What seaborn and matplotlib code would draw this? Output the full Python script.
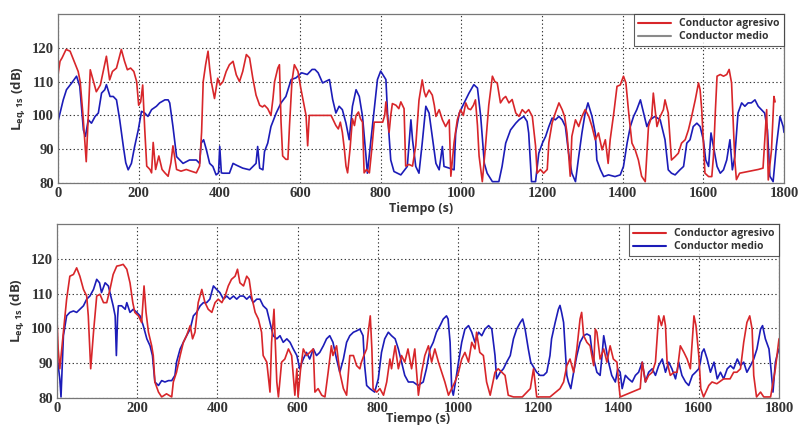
import numpy as np
import pandas as pd
import matplotlib
matplotlib.use("Agg")
import matplotlib.pyplot as plt
from matplotlib.lines import Line2D
import seaborn as sns

sns.set_style("white")
plt.rcParams['font.family'] = ['Open Sans', 'DejaVu Sans']

# ---------------- data ----------------
top_red_t = [0, 5, 10, 20, 30, 40, 50, 55, 62, 70, 75, 80, 88, 95, 105, 112, 120, 128, 135, 145, 157, 165, 172, 180, 188, 195, 200, 205, 210, 215, 220, 228, 232, 236, 242, 250, 258, 265, 273, 280, 285, 290, 294, 305, 318, 330, 343, 351, 356, 360, 366, 372, 376, 380, 388, 396, 402, 409, 417, 425, 434, 442, 450, 458, 467, 475, 483, 491, 500, 507, 512, 520, 528, 533, 537, 545, 549, 553, 557, 565, 570, 574, 580, 586, 595, 602, 610, 615, 619, 623, 650, 677, 685, 689, 695, 700, 705, 710, 714, 718, 724, 730, 735, 739, 745, 750, 755, 759, 765, 772, 778, 784, 795, 805, 810, 813, 817, 821, 825, 829, 838, 845, 850, 858, 862, 870, 879, 887, 895, 903, 908, 912, 920, 928, 933, 937, 945, 953, 961, 970, 974, 982, 990, 998, 1005, 1011, 1017, 1023, 1030, 1035, 1040, 1044, 1052, 1060, 1068, 1077, 1083, 1089, 1097, 1104, 1110, 1118, 1126, 1135, 1143, 1151, 1159, 1167, 1176, 1184, 1188, 1196, 1204, 1213, 1217, 1225, 1233, 1242, 1250, 1256, 1262, 1270, 1274, 1283, 1291, 1299, 1307, 1316, 1324, 1332, 1340, 1349, 1357, 1364, 1369, 1378, 1386, 1394, 1402, 1408, 1415, 1423, 1431, 1439, 1447, 1456, 1464, 1472, 1476, 1485, 1493, 1501, 1505, 1513, 1521, 1530, 1538, 1546, 1555, 1563, 1571, 1580, 1588, 1592, 1596, 1604, 1613, 1621, 1625, 1630, 1634, 1642, 1650, 1658, 1664, 1670, 1678, 1682, 1690, 1711, 1736, 1748, 1757, 1761, 1769, 1775, 1778]
top_red_v = [112, 116, 117, 119.5, 119, 116, 113, 110, 100, 86.3, 100, 113.5, 110, 107, 109, 113, 117.5, 110.5, 113, 114, 119.5, 116, 113.5, 114, 113, 110, 103, 104, 109, 96, 85, 84, 83, 92, 84, 88, 84, 83, 82, 86, 91, 87, 84, 83.5, 84, 83.5, 83, 85, 95, 110, 115, 119, 114, 110, 105, 111, 109, 110, 113, 115, 116, 112, 110, 113, 118, 117, 111, 106, 103, 102.5, 103, 102, 100, 105, 110, 114, 115, 98, 88, 87, 87, 97, 110, 115, 113, 108, 103, 100, 91, 100, 100, 100, 98, 97, 96, 98, 95, 90, 85, 83, 90, 99, 97, 100, 101, 99, 98, 83, 84, 83, 90, 98, 98, 98, 100, 104, 99, 95, 100, 103.5, 103, 102, 104, 102, 85, 85.5, 85, 91, 104.5, 110.5, 107, 105.5, 107.5, 106, 103, 99.7, 101.7, 98.7, 96.7, 98.7, 82, 92, 98.7, 101.7, 100, 103.7, 102, 101.7, 103, 104.6, 97, 88, 80.4, 91, 103, 111.6, 110, 109.6, 103.7, 105, 105.6, 103.7, 104.7, 100.7, 99.7, 101.7, 100.7, 101.7, 99.7, 91, 82.9, 84, 82.9, 84, 92, 97.7, 100.7, 103.7, 101.7, 99.7, 94.8, 82, 93.8, 98.7, 96.7, 99.7, 101.7, 99.7, 96.7, 92.8, 94.8, 89.8, 92.8, 85.8, 92.8, 100.7, 108.6, 109, 111.6, 109.6, 100.7, 91.8, 89.8, 86.8, 82, 80.4, 96.7, 99.7, 106.6, 96.7, 99.7, 101.7, 104.6, 100.7, 86.8, 87.8, 88.8, 91.8, 92.8, 95.7, 99.7, 104.6, 109.6, 107.6, 101.7, 82.9, 81.9, 81.9, 87.8, 101.7, 111.6, 112.1, 111.6, 112.1, 113.6, 109.6, 86.8, 81, 82.9, 83.4, 84, 84.4, 101.7, 80.9, 89.8, 105.6, 104]

top_blue_t = [0, 5, 13, 21, 34, 46, 54, 58, 63, 68, 75, 83, 92, 100, 108, 116, 120, 129, 137, 145, 153, 162, 168, 174, 182, 190, 199, 207, 215, 223, 232, 244, 252, 265, 273, 277, 285, 294, 302, 310, 326, 343, 351, 355, 361, 368, 376, 384, 392, 398, 401, 405, 409, 425, 434, 442, 458, 475, 491, 495, 500, 508, 512, 520, 528, 541, 553, 565, 578, 590, 604, 618, 630, 637, 645, 656, 673, 681, 689, 697, 705, 714, 722, 730, 739, 747, 755, 763, 767, 776, 784, 792, 800, 813, 817, 825, 833, 850, 866, 875, 879, 887, 895, 903, 912, 920, 928, 937, 945, 953, 957, 970, 982, 986, 995, 1007, 1019, 1031, 1040, 1048, 1057, 1064, 1077, 1093, 1101, 1110, 1122, 1135, 1143, 1155, 1163, 1167, 1174, 1184, 1192, 1201, 1209, 1217, 1225, 1233, 1242, 1250, 1258, 1266, 1274, 1283, 1291, 1299, 1307, 1314, 1324, 1332, 1336, 1345, 1353, 1365, 1381, 1394, 1402, 1411, 1419, 1427, 1435, 1444, 1452, 1460, 1468, 1480, 1493, 1497, 1505, 1513, 1521, 1530, 1542, 1551, 1559, 1567, 1575, 1584, 1592, 1600, 1606, 1613, 1619, 1625, 1634, 1642, 1650, 1658, 1666, 1672, 1678, 1686, 1695, 1703, 1711, 1719, 1728, 1736, 1744, 1752, 1759, 1765, 1773, 1781, 1790, 1798, 1800]
top_blue_v = [98.2, 100.7, 104.6, 107.6, 109.6, 111.6, 108.6, 103, 95.7, 93.8, 98.7, 97.7, 99.7, 100.7, 106.6, 107.6, 109.1, 105.6, 105.6, 104.6, 98.7, 90.8, 86, 83.9, 85.8, 90.8, 95.7, 101.2, 100.7, 99.7, 101.7, 102.7, 103.7, 104.6, 104.6, 103.7, 96.7, 87.8, 86.8, 85.8, 86.8, 86.8, 85.8, 91.8, 92.8, 89.8, 85.8, 84.9, 82.4, 83, 90.8, 83, 82.9, 82.9, 85.8, 85.3, 84.4, 83.9, 85.8, 90.8, 84.4, 83.9, 89.3, 91.8, 96.7, 100.7, 103.7, 105.6, 110.6, 111.1, 112.6, 112.1, 113.6, 113.6, 112.6, 109.6, 110.6, 104.7, 100.7, 102.7, 101.7, 97.7, 92.8, 102.7, 107.6, 105.6, 99.7, 88.8, 82.9, 92.8, 101.7, 110.6, 113.1, 110.6, 100.7, 86.8, 83.4, 82.4, 84.9, 98.7, 92.8, 84.9, 82.9, 91.8, 102.7, 100.7, 93.8, 85.8, 83.9, 90.8, 84.9, 84.4, 83.9, 94.8, 100.7, 103.7, 106.6, 109.1, 108.1, 99.7, 85.8, 82.9, 80.4, 80.4, 84.9, 91.8, 95.7, 97.7, 98.7, 99.7, 98.2, 94.8, 80.4, 80.4, 88.8, 91.8, 93.8, 96.7, 99.2, 98.7, 99.7, 98.7, 96.7, 88.8, 82.9, 80.4, 87.8, 94.8, 100.7, 103.7, 99.7, 94.8, 86.8, 83.9, 81.9, 82.4, 81.9, 82.4, 84.9, 91.8, 96.7, 99.7, 101.7, 104.6, 100.7, 96.7, 98.7, 99.7, 98.7, 96.7, 92.8, 83.9, 82.9, 82.4, 83.9, 84.9, 91.8, 92.8, 96.7, 97.7, 96.7, 92.8, 86.8, 84.9, 94.8, 90.8, 84.9, 82.9, 83.9, 86.8, 92.8, 83.9, 87.8, 100.7, 103.7, 102.7, 103.7, 103.7, 104.6, 102.7, 101.7, 100.7, 95.7, 82, 80.4, 90.8, 99.7, 96.7, 95]

bot_red_t = [0, 3, 7, 16, 24, 32, 41, 49, 57, 66, 74, 78, 84, 91, 99, 107, 116, 124, 132, 140, 149, 157, 165, 174, 182, 189, 194, 203, 211, 217, 222, 228, 236, 240, 244, 253, 261, 273, 286, 290, 298, 307, 315, 323, 332, 338, 344, 352, 361, 369, 377, 386, 394, 402, 411, 419, 427, 435, 444, 450, 456, 465, 473, 479, 485, 494, 502, 510, 514, 523, 531, 535, 541, 548, 552, 560, 568, 577, 585, 593, 598, 601, 607, 614, 622, 630, 639, 643, 651, 660, 668, 676, 684, 688, 697, 705, 714, 722, 730, 739, 747, 755, 759, 765, 772, 776, 781, 785, 788, 797, 805, 814, 822, 830, 834, 843, 851, 859, 867, 875, 884, 892, 901, 909, 917, 926, 934, 942, 951, 959, 967, 976, 984, 992, 1001, 1009, 1017, 1026, 1034, 1042, 1046, 1054, 1063, 1071, 1080, 1092, 1100, 1109, 1117, 1125, 1138, 1160, 1180, 1188, 1196, 1229, 1254, 1263, 1271, 1279, 1288, 1296, 1304, 1308, 1313, 1321, 1329, 1338, 1342, 1346, 1354, 1363, 1371, 1379, 1387, 1396, 1400, 1404, 1454, 1459, 1467, 1475, 1484, 1492, 1500, 1507, 1513, 1517, 1521, 1529, 1538, 1546, 1554, 1563, 1571, 1579, 1588, 1593, 1600, 1605, 1612, 1625, 1633, 1645, 1662, 1678, 1687, 1695, 1704, 1712, 1720, 1727, 1733, 1737, 1744, 1754, 1762, 1779, 1791, 1800]
bot_red_v = [102.7, 94, 88.4, 98.9, 108.4, 115, 115.5, 117.4, 115, 111.2, 109.3, 103.6, 88.4, 98.9, 109.3, 109.8, 107.4, 107.4, 111.2, 115.5, 117.9, 118.1, 118.4, 117, 113.1, 107.4, 104.6, 103.6, 101.7, 112.2, 104.6, 98.9, 95, 92.2, 84.6, 81.7, 80.3, 81.2, 80.3, 84.6, 87.4, 92.2, 96, 97.9, 100.8, 97, 98.9, 107.4, 111.2, 107.4, 105.5, 104.6, 107.4, 108.4, 107.4, 109.3, 112.2, 114.1, 115, 117, 113.1, 112.2, 115, 114.1, 109.3, 104.6, 102.7, 98.9, 92.2, 90.3, 81.7, 96, 105.5, 84.6, 80.3, 90.3, 91.2, 94.1, 92.2, 80.8, 88.4, 80.3, 88, 94.1, 92.2, 93.1, 94.1, 81.7, 82.7, 80.8, 80.3, 87.4, 95, 92.2, 95, 87.4, 82.7, 80.8, 92.2, 92.2, 89.3, 88.4, 90.3, 92.2, 94.1, 98.9, 103.6, 94.1, 82.7, 81.7, 82.7, 80.8, 84.6, 91.2, 88.4, 95, 88.4, 92.2, 90.3, 94.1, 88.4, 94.1, 80.8, 87.4, 92.2, 95, 90.3, 94.1, 90.3, 87.4, 84.6, 80.8, 82.7, 84.6, 87.4, 91.2, 93.1, 90.3, 96, 94.1, 98.9, 93.1, 92.2, 84.6, 80.8, 87.4, 88.4, 87.4, 86.5, 80.8, 80.3, 80.3, 82.7, 88.4, 80.3, 80.3, 82.7, 84.6, 89.3, 91.2, 87.4, 94.1, 102.7, 104.6, 97.9, 96, 95, 89.3, 99.8, 98.9, 91.2, 94.1, 90.3, 95, 91.2, 90.3, 84.6, 80.3, 82.7, 90.3, 84.6, 86.5, 87.4, 90.3, 103.6, 100.8, 103.6, 100.8, 90.3, 86.5, 87.4, 87.4, 95, 93.1, 91.2, 88.4, 103.6, 100.8, 92.2, 82.7, 80.3, 83.6, 84.6, 84.1, 85.5, 85.5, 87.4, 87.4, 88.4, 96, 101.7, 103.6, 99.8, 86.5, 80.3, 81.7, 80.3, 80.3, 88.4, 97]

bot_blue_t = [0, 3, 7, 10, 16, 24, 32, 41, 49, 57, 66, 74, 82, 91, 99, 106, 111, 120, 128, 136, 140, 145, 148, 151, 153, 161, 170, 174, 182, 190, 199, 207, 215, 224, 232, 238, 244, 253, 261, 269, 278, 286, 294, 298, 307, 315, 323, 332, 340, 348, 357, 365, 373, 381, 390, 398, 406, 415, 423, 431, 440, 448, 456, 465, 473, 481, 489, 498, 506, 514, 523, 531, 539, 548, 556, 564, 573, 581, 589, 598, 605, 614, 622, 630, 639, 647, 655, 664, 672, 680, 688, 697, 705, 714, 722, 730, 739, 747, 755, 763, 767, 772, 780, 792, 801, 809, 817, 826, 834, 843, 851, 859, 867, 876, 888, 900, 913, 921, 930, 938, 946, 955, 963, 971, 975, 980, 984, 988, 992, 1001, 1009, 1017, 1026, 1034, 1042, 1051, 1059, 1067, 1076, 1084, 1092, 1096, 1105, 1113, 1121, 1130, 1138, 1146, 1155, 1161, 1167, 1175, 1181, 1188, 1196, 1204, 1213, 1221, 1229, 1233, 1242, 1250, 1254, 1258, 1263, 1267, 1271, 1275, 1281, 1288, 1296, 1304, 1313, 1321, 1329, 1333, 1338, 1346, 1354, 1358, 1363, 1369, 1375, 1383, 1392, 1398, 1404, 1409, 1417, 1425, 1434, 1442, 1450, 1459, 1467, 1475, 1484, 1492, 1500, 1509, 1517, 1525, 1533, 1542, 1550, 1558, 1567, 1575, 1584, 1592, 1600, 1604, 1608, 1613, 1621, 1629, 1638, 1646, 1654, 1662, 1671, 1679, 1687, 1696, 1704, 1712, 1720, 1729, 1737, 1745, 1754, 1759, 1766, 1775, 1780, 1785, 1791, 1795, 1800]
bot_blue_v = [92.2, 89.3, 85.5, 80.3, 97.9, 103.6, 104.6, 105, 104.6, 105.5, 106.5, 108.4, 109.3, 111.2, 114.1, 113.1, 110.3, 113.1, 112.2, 108.4, 106.5, 103.6, 92.2, 103, 106.5, 106.5, 105.5, 107.4, 104.6, 105.5, 104.6, 103.6, 100.8, 97, 95, 92.2, 84.6, 83.6, 85, 84.6, 85, 85, 86.5, 90.3, 94.1, 96, 97.9, 99.8, 103.6, 104.6, 106.5, 107.4, 107.4, 108.4, 112.2, 111.2, 110.3, 108.4, 109.3, 108.4, 109.3, 108.4, 109.3, 109.3, 108.4, 109.3, 107.4, 108.4, 108.4, 106.5, 105.5, 101.7, 97.9, 97, 97.9, 96, 97, 96, 94.1, 92.2, 88.4, 91.2, 93.1, 91.2, 94.1, 92.2, 93.1, 95, 97, 97.9, 96, 91.2, 87.4, 91.2, 96, 97.9, 98.9, 99.3, 99.8, 97.9, 89.3, 83.6, 82.7, 81.7, 85.5, 93.1, 97, 98.9, 97.9, 97, 94.1, 90.3, 86.5, 84.6, 84.6, 83.6, 84.6, 88.4, 94.1, 96, 98.9, 100.8, 102.7, 103.6, 102.7, 96, 82.7, 80.8, 83.6, 90.3, 96, 99.8, 100.8, 98.9, 96, 98.9, 97.9, 99.8, 100.8, 99.8, 92.2, 85.5, 87.4, 88.4, 90.3, 92.2, 97, 99.8, 101.7, 102.7, 99.8, 94.1, 90.3, 88.9, 87.4, 86.5, 86.5, 87.4, 92.2, 97, 101.7, 105.5, 106.6, 104.6, 101.7, 94.1, 86.5, 84.6, 82.7, 87.4, 92.2, 96, 97.9, 98.4, 97.9, 94.1, 91.2, 87.4, 86.5, 91.2, 97.9, 94.1, 90.3, 86.5, 84.6, 88.4, 87.4, 82.7, 86.5, 85.5, 84.6, 86.5, 87.4, 90.3, 84.6, 87.4, 88.4, 86.5, 89.3, 91.2, 87.4, 90.3, 88.4, 85.5, 90.3, 86.5, 84.6, 83.6, 86.5, 87.4, 88.4, 90.3, 93.1, 94.1, 91.2, 87.4, 90.3, 85.5, 87.4, 85.5, 88.4, 89.3, 88.4, 91.2, 89.3, 90.3, 87.4, 89.3, 91.2, 94.1, 99.8, 100.8, 97, 94.1, 88.4, 81.7, 90.3, 92.2, 94.1]

x_ticks = [0, 200, 400, 600, 800, 1000, 1200, 1400, 1600, 1800]
y_ticks = [80, 90, 100, 110, 120]
legend_labels = ["Conductor agresivo", "Conductor medio"]
x_label = "Tiempo (s)"
y_label = r"L$_{\mathregular{eq,1s}}$ (dB)"

RED = "#d8262a"
BLUE = "#1c1cb8"
GRAY = "#8a8a8a"

fig = plt.figure(figsize=(7.98, 4.26), dpi=100)
ax1 = fig.add_axes([58 / 798, 1 - 183 / 426, 726 / 798, 169 / 426])
ax2 = fig.add_axes([57 / 798, 1 - 398 / 426, 722 / 798, 174 / 426])


def draw(ax, rt, rv, bt, bv, legend_blue):
    df_r = pd.DataFrame({"t": rt, "v": rv})
    df_b = pd.DataFrame({"t": bt, "v": bv})
    sns.lineplot(data=df_b, x="t", y="v", ax=ax, color=BLUE, lw=1.2,
                 estimator=None, sort=False, legend=False)
    sns.lineplot(data=df_r, x="t", y="v", ax=ax, color=RED, lw=1.2,
                 estimator=None, sort=False, legend=False)
    ax.set_xlim(0, 1800)
    ax.set_ylim(80, 130)
    ax.set_xticks(x_ticks)
    ax.set_yticks(y_ticks)
    ax.tick_params(axis="both", direction="in", length=3, width=0.8,
                   color="#777777", pad=3)
    for lab in ax.get_xticklabels() + ax.get_yticklabels():
        lab.set_fontfamily("Liberation Serif")
        lab.set_fontsize(10.5)
        lab.set_fontweight("bold")
        lab.set_color("#333333")
    ax.grid(True, linestyle=(0, (1.2, 2.2)), color="#333333", lw=0.8)
    for s in ax.spines.values():
        s.set_color("#777777")
        s.set_linewidth(0.9)
    ax.set_xlabel(x_label, fontsize=9, fontweight="bold", color="#333333", labelpad=1)
    ax.set_ylabel(y_label, fontsize=9.5, fontweight="bold", color="#333333", labelpad=3)
    handles = [Line2D([], [], color=RED, lw=1.5),
               Line2D([], [], color=legend_blue, lw=1.5)]
    leg = ax.legend(handles, legend_labels, loc="upper right",
                    frameon=True, fancybox=False, borderaxespad=0.0,
                    handlelength=3.2, borderpad=0.4, labelspacing=0.2,
                    prop={"weight": "bold", "size": 7.5})
    leg.get_frame().set_edgecolor("#333333")
    leg.get_frame().set_linewidth(0.8)
    for tx in leg.get_texts():
        tx.set_color("#333333")


draw(ax1, top_red_t, top_red_v, top_blue_t, top_blue_v, GRAY)
draw(ax2, bot_red_t, bot_red_v, bot_blue_t, bot_blue_v, BLUE)
ax2.xaxis.labelpad = -2

fig.savefig("out.png", dpi=100)
